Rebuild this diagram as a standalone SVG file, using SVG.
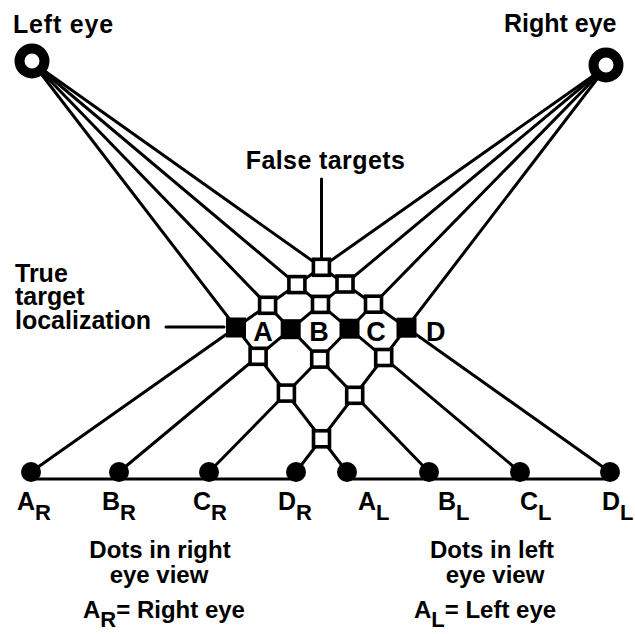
<svg xmlns="http://www.w3.org/2000/svg" width="635" height="634" viewBox="0 0 635 634">
<style>
text{font-family:"Liberation Sans",Arial,sans-serif;font-weight:bold;fill:#000}
.t{font-size:25px}
.k{font-size:27px}
.s{font-size:22px}
.d{font-size:24px}
.ln{stroke:#000;stroke-width:3;fill:none;stroke-linecap:round}
.f{fill:#fff;stroke:#000;stroke-width:3.6}
.tr{fill:#000}
.dot{fill:#000}
.eye{fill:#fff;stroke:#000;stroke-width:10}
</style>
<rect width="635" height="634" fill="#fff"/>
<g id="connectors">
  <line class="ln" x1="32" y1="62" x2="347" y2="472"/>
  <line class="ln" x1="32" y1="62" x2="429" y2="472"/>
  <line class="ln" x1="32" y1="62" x2="520" y2="472"/>
  <line class="ln" x1="32" y1="62" x2="610" y2="472"/>
  <line class="ln" x1="607" y1="66" x2="31" y2="472"/>
  <line class="ln" x1="607" y1="66" x2="119" y2="472"/>
  <line class="ln" x1="607" y1="66" x2="209" y2="472"/>
  <line class="ln" x1="607" y1="66" x2="296" y2="472"/>
  <line class="ln" x1="31" y1="479" x2="296" y2="479"/>
  <line class="ln" x1="347" y1="479" x2="610" y2="479"/>
  <line class="ln" x1="321.5" y1="179" x2="321.5" y2="258"/>
  <line class="ln" x1="166" y1="327" x2="224" y2="327"/>
</g>
<g id="left-eye"><circle class="eye" cx="32" cy="61" r="12.5"/><text class="t" x="13" y="33" letter-spacing="0.8">Left eye</text></g>
<g id="right-eye"><circle class="eye" cx="606" cy="65" r="12.5"/><text class="t" x="504" y="32">Right eye</text></g>
<g id="false-targets">
  <rect class="f" x="250.1" y="348.3" width="16" height="16"/>
  <rect class="f" x="278.4" y="385.1" width="16" height="16"/>
  <rect class="f" x="313.5" y="430.8" width="16" height="16"/>
  <rect class="f" x="259.6" y="297.3" width="16" height="16"/>
  <rect class="f" x="311.7" y="351.1" width="16" height="16"/>
  <rect class="f" x="346.7" y="387.3" width="16" height="16"/>
  <rect class="f" x="288.9" y="276.6" width="16" height="16"/>
  <rect class="f" x="312.5" y="296.4" width="16" height="16"/>
  <rect class="f" x="375.7" y="349.5" width="16" height="16"/>
  <rect class="f" x="313.4" y="259.3" width="16" height="16"/>
  <rect class="f" x="337" y="276" width="16" height="16"/>
  <rect class="f" x="365.5" y="296.2" width="16" height="16"/>
  <text class="t" x="325.5" y="169" text-anchor="middle" letter-spacing="0.4">False targets</text>
</g>
<g id="true-targets">
  <rect class="tr" x="226" y="317.5" width="20" height="20"/>
  <rect class="tr" x="280.7" y="319.2" width="20" height="20"/>
  <rect class="tr" x="339.5" y="318.7" width="20" height="20"/>
  <rect class="tr" x="396.5" y="317.7" width="20" height="20"/>
  <text class="k" x="263" y="341" text-anchor="middle">A</text>
  <text class="k" x="319" y="341" text-anchor="middle">B</text>
  <text class="k" x="376" y="341" text-anchor="middle">C</text>
  <text class="k" x="426" y="341">D</text>
  <text class="t" x="15" y="282">True</text>
  <text class="t" x="15" y="305">target</text>
  <text class="t" x="15" y="329">localization</text>
</g>
<g id="right-eye-dots">
  <circle class="dot" cx="31" cy="472" r="10"/>
  <circle class="dot" cx="119" cy="472" r="10"/>
  <circle class="dot" cx="209" cy="472" r="10"/>
  <circle class="dot" cx="296" cy="472" r="10"/>
  <text class="t" x="17" y="510">A<tspan class="s" dy="10">R</tspan></text>
  <text class="t" x="102" y="510">B<tspan class="s" dy="10">R</tspan></text>
  <text class="t" x="193" y="510">C<tspan class="s" dy="10">R</tspan></text>
  <text class="t" x="278" y="510">D<tspan class="s" dy="10">R</tspan></text>
  <text class="d" x="160" y="558" text-anchor="middle">Dots in right</text>
  <text class="d" x="159" y="583" text-anchor="middle">eye view</text>
  <text class="d" x="164" y="618" text-anchor="middle">A<tspan class="s" dy="9">R</tspan><tspan dy="-9">= Right eye</tspan></text>
</g>
<g id="left-eye-dots">
  <circle class="dot" cx="347" cy="472" r="10"/>
  <circle class="dot" cx="429" cy="472" r="10"/>
  <circle class="dot" cx="520" cy="472" r="10"/>
  <circle class="dot" cx="610" cy="472" r="10"/>
  <text class="t" x="358" y="510">A<tspan class="s" dy="10">L</tspan></text>
  <text class="t" x="438" y="510">B<tspan class="s" dy="10">L</tspan></text>
  <text class="t" x="520" y="510">C<tspan class="s" dy="10">L</tspan></text>
  <text class="t" x="602" y="510">D<tspan class="s" dy="10">L</tspan></text>
  <text class="d" x="492" y="558" text-anchor="middle">Dots in left</text>
  <text class="d" x="495" y="583" text-anchor="middle">eye view</text>
  <text class="d" x="485" y="618" text-anchor="middle">A<tspan class="s" dy="9">L</tspan><tspan dy="-9">= Left eye</tspan></text>
</g>
</svg>
